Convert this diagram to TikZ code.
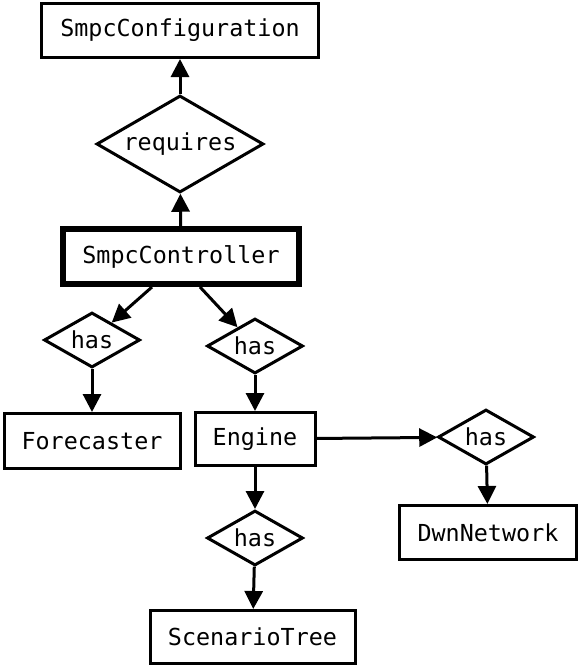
\documentclass[tikz,border=0pt]{standalone}
\usepackage{fontspec}
\setmonofont{DejaVu Sans Mono}
\usetikzlibrary{positioning, arrows.meta, shapes.geometric}

\begin{document}
\begin{tikzpicture}[
    x=1pt, y=-1pt,
    entity/.style={rectangle, draw=black, line width=3pt, align=center, inner sep=0pt, font=\ttfamily\fontsize{23.4}{27}\selectfont},
    relation/.style={diamond, draw=black, line width=3pt, aspect=1.7, inner sep=0pt, minimum width=96pt, minimum height=55pt, font=\ttfamily\fontsize{23.4}{27}\selectfont},
    arr/.style={-{Triangle[length=18pt, width=18pt]}, line width=3pt},
]
\useasboundingbox (0,0) rectangle (581,667);

\node [entity, minimum width=277pt, minimum height=54pt] (config) at (180,30.5) {SmpcConfiguration};

\node [relation, minimum width=167pt, minimum height=97pt, below=35pt of config] (requires) {requires};

\node [entity, line width=6pt, minimum width=236pt, minimum height=55pt, below=32pt of requires, xshift=1pt] (ctrl) {SmpcController};

\node [relation, below=24pt of ctrl.south, xshift=-89pt] (hasfore) {has};
\node [relation, below=30pt of ctrl.south, xshift=74pt] (haseng) {has};

\node [entity, minimum width=176pt, minimum height=55pt, below=43pt of hasfore] (fore) {Forecaster};
\node [entity, minimum width=120pt, minimum height=53pt, below=36pt of haseng] (engine) {Engine};

\node [relation, right=120pt of engine, yshift=2pt] (hasnet) {has};
\node [entity, minimum width=177pt, minimum height=54pt, below=38pt of hasnet, xshift=2pt] (dwn) {DwnNetwork};

\node [relation, below=42pt of engine] (hastree) {has};
\node [entity, minimum width=205pt, minimum height=53pt, below=42pt of hastree, xshift=-2.5pt] (tree) {ScenarioTree};

\draw [arr] (ctrl) -- (requires);
\draw [arr] (requires) -- (config);
\draw [arr] ([xshift=-29pt]ctrl.south) -- (hasfore);
\draw [arr] ([xshift=19pt]ctrl.south) -- (haseng);
\draw [arr] (hasfore) -- (fore);
\draw [arr] (haseng) -- (engine);
\draw [arr] (engine) -- (hasnet);
\draw [arr] (hasnet) -- (dwn);
\draw [arr] (engine) -- (hastree);
\draw [arr] (hastree) -- (tree);

\end{tikzpicture}
\end{document}
